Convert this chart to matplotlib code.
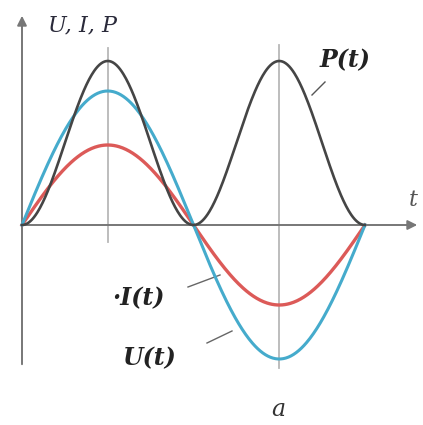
import matplotlib.pyplot as plt
import numpy as np

# amplitudes of the three curves (arbitrary units, same scale as the axes)
names = ['U(t)', 'I(t)', 'P(t)']
amplitudes = [134, 80, 164]
colors = ['#45abcc', '#dc5a58', '#454545']

period = 2 * np.pi
t = np.linspace(0, period, 400)
U = amplitudes[0] * np.sin(t)
I = amplitudes[1] * np.sin(t)
P = amplitudes[2] * np.sin(t) ** 2

fig = plt.figure(figsize=(4.23, 4.25), dpi=100)
ax = fig.add_axes([0, 0, 1, 1])
sx = period / 343.0  # x data per pixel
ax.set_xlim(-22 * sx, 401 * sx)
ax.set_ylim(-200, 225)
ax.axis('off')

# quarter-period guide lines
ax.plot([period / 4, period / 4], [-17, 177], color='#b8b8b8', lw=1.3, zorder=1)
ax.plot([3 * period / 4, 3 * period / 4], [-143, 180], color='#b8b8b8', lw=1.3, zorder=1)

# axes with arrows
ax.annotate('', xy=(0, 212), xytext=(0, -142),
            arrowprops=dict(arrowstyle='-|>', color='#777777', lw=1.4, mutation_scale=14))
ax.annotate('', xy=(398 * sx, 0), xytext=(0, 0),
            arrowprops=dict(arrowstyle='-|>', color='#777777', lw=1.4, mutation_scale=14))

ax.plot(t, I, color=colors[1], lw=2.4, zorder=3)
ax.plot(t, U, color=colors[0], lw=2.2, zorder=3)
ax.plot(t, P, color=colors[2], lw=1.9, zorder=4)

serif = 'DejaVu Serif'
ax.text(26 * sx, 200, 'U, I, P', family=serif, style='italic', fontsize=16, color='#2a2a3a',
        va='center', ha='left')
ax.text(391 * sx, 25, 't', family=serif, style='italic', fontsize=16, color='#555555',
        va='center', ha='center')
ax.text(298 * sx, 165, names[2], family=serif, style='italic', weight='bold', fontsize=17,
        color='#222222', va='center', ha='left')
ax.plot([303 * sx, 290 * sx], [143, 130], color='#555555', lw=1)
ax.text(90 * sx, -73, '·' + names[1], family=serif, style='italic', weight='bold', fontsize=17,
        color='#222222', va='center', ha='left')
ax.plot([166 * sx, 198 * sx], [-62, -50], color='#666666', lw=1)
ax.text(100 * sx, -133, names[0], family=serif, style='italic', weight='bold', fontsize=17,
        color='#222222', va='center', ha='left')
ax.plot([185 * sx, 210 * sx], [-118, -106], color='#666666', lw=1)
ax.text(256 * sx, -185, 'a', family=serif, style='italic', fontsize=17, color='#333333',
        va='center', ha='center')

fig.savefig('out.png', dpi=100)
